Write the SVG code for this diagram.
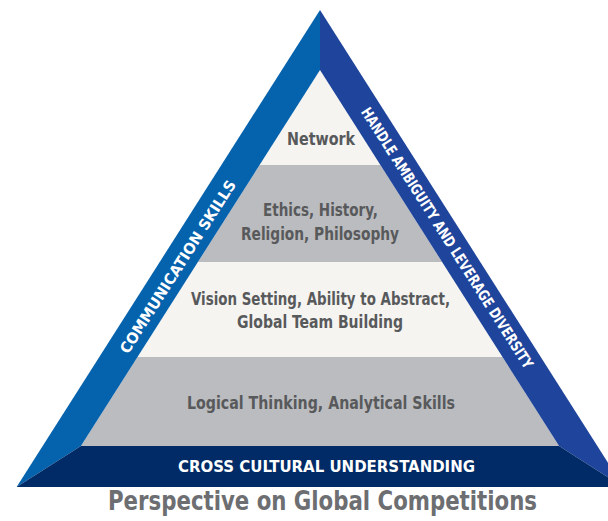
<svg xmlns="http://www.w3.org/2000/svg" width="608" height="521" viewBox="0 0 608 521">
<style>
.lt{fill:#f5f4f1}
.gr{fill:#bbbcbf}
.lay{font-family:"Liberation Sans Narrow","DejaVu Sans Condensed","Liberation Sans",sans-serif;font-weight:bold;font-size:17px;fill:#58595b;text-anchor:middle}
.side{font-family:"Liberation Sans Narrow","DejaVu Sans Condensed","Liberation Sans",sans-serif;font-weight:bold;font-size:15px;fill:#ffffff;text-anchor:middle;dominant-baseline:central}
.title{font-family:"Liberation Sans Narrow","DejaVu Sans Condensed","Liberation Sans",sans-serif;font-weight:bold;font-size:26px;fill:#6d6e71;text-anchor:middle}
</style>
<rect width="608" height="521" fill="#ffffff"/>
<g id="layer-network">
<polygon class="lt" points="320,70 380.4,165 259.6,165"/>
<text class="lay" x="321" y="145" textLength="68" lengthAdjust="spacingAndGlyphs">Network</text>
</g>
<g id="layer-ethics">
<polygon class="gr" points="259.6,165 380.4,165 442.1,262 197.9,262"/>
<text class="lay" x="320.5" y="216" textLength="115" lengthAdjust="spacingAndGlyphs">Ethics, History,</text>
<text class="lay" x="320" y="240" textLength="158" lengthAdjust="spacingAndGlyphs">Religion, Philosophy</text>
</g>
<g id="layer-vision">
<polygon class="lt" points="197.9,262 442.1,262 502.5,357 137.5,357"/>
<text class="lay" x="320.5" y="305" textLength="259" lengthAdjust="spacingAndGlyphs">Vision Setting, Ability to Abstract,</text>
<text class="lay" x="320" y="328" textLength="166" lengthAdjust="spacingAndGlyphs">Global Team Building</text>
</g>
<g id="layer-logical">
<polygon class="gr" points="137.5,357 502.5,357 559.1,446 80.9,446"/>
<text class="lay" x="321" y="409" textLength="268" lengthAdjust="spacingAndGlyphs">Logical Thinking, Analytical Skills</text>
</g>
<g id="side-communication">
<polygon fill="#0562ad" points="320,10 320,70 80.9,446 16.6,487"/>
<text class="side" transform="translate(178,267) rotate(-57.5)" x="0" y="0" textLength="202" lengthAdjust="spacingAndGlyphs">COMMUNICATION SKILLS</text>
</g>
<g id="side-ambiguity">
<polygon fill="#1e449b" points="320,10 320,70 559.1,446 623.4,487"/>
<text class="side" transform="translate(447,238) rotate(57.5)" x="0" y="0" textLength="306" lengthAdjust="spacingAndGlyphs">HANDLE AMBIGUITY AND LEVERAGE DIVERSITY</text>
</g>
<g id="base-cross-cultural">
<polygon fill="#002b66" points="80.9,446 559.1,446 623.4,487 16.6,487"/>
<text class="lay" x="326.5" y="472" style="fill:#ffffff;font-size:16px" textLength="297" lengthAdjust="spacingAndGlyphs">CROSS CULTURAL UNDERSTANDING</text>
</g>
<g id="title">
<text class="title" x="322.5" y="510" textLength="429" lengthAdjust="spacingAndGlyphs">Perspective on Global Competitions</text>
</g>
<g id="connectors"/>
</svg>
